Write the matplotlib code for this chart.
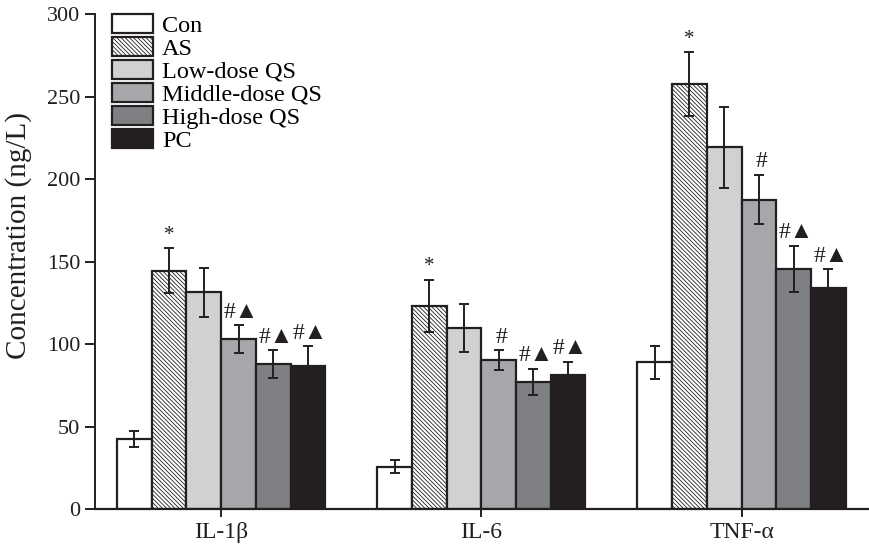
import numpy as np
import matplotlib.pyplot as plt
from matplotlib import rcParams

rcParams['font.family'] = ['Liberation Serif', 'DejaVu Sans']

cytokines = ["IL-1\u03b2", "IL-6", "TNF-\u03b1"]
groups = ["Con", "AS", "Low-dose QS", "Middle-dose QS", "High-dose QS", "PC"]

# mean and error (ng/L), rows = groups, columns = cytokines
means = [
    [42.5, 25.8, 89.2],
    [144.6, 123.2, 257.6],
    [131.5, 110.0, 219.4],
    [103.0, 90.5, 187.7],
    [87.9, 77.3, 145.7],
    [86.8, 81.4, 134.4],
]
errors = [
    [5.0, 4.0, 10.0],
    [13.5, 16.0, 19.5],
    [15.0, 14.5, 24.5],
    [8.5, 6.0, 15.0],
    [8.6, 8.0, 14.0],
    [12.0, 8.0, 11.0],
]
marks = [
    ["", "", ""],
    ["*", "*", "*"],
    ["", "", ""],
    ["#\u25b2", "#", "#"],
    ["#\u25b2", "#\u25b2", "#\u25b2"],
    ["#\u25b2", "#\u25b2", "#\u25b2"],
]

colors = ['white', 'white', '#d0d1d3', '#a6a7aa', '#7f8083', '#231f20']
hatches = [None, '\\' * 8, None, None, None, None]

rcParams['hatch.linewidth'] = 0.6

fig = plt.figure(figsize=(8.69, 5.44), dpi=100)
ax = fig.add_axes([0.1093, 0.0638, 0.8907, 0.9099])

x = np.arange(len(cytokines))
w = 0.1333
for i, g in enumerate(groups):
    pos = x + (i - 2.5) * w
    ax.bar(pos, means[i], width=w, color=colors[i], edgecolor='#231f20',
           linewidth=1.6, hatch=hatches[i], label=g, zorder=2)
    ax.errorbar(pos, means[i], yerr=errors[i], fmt='none', ecolor='#231f20',
                elinewidth=1.4, capsize=3.5, capthick=1.4, zorder=3)
    for j in range(len(cytokines)):
        m = marks[i][j]
        if m == "":
            continue
        top = means[i][j] + errors[i][j]
        if m == "*":
            ax.text(pos[j], top + 2, m, ha='center', va='bottom', fontsize=15,
                    color='#231f20')
        else:
            ax.text(pos[j] + 0.01, top + 1.5, m, ha='center', va='bottom',
                    fontsize=17, color='#231f20')

ax.set_xlim(-0.485, 2.49)
ax.set_ylim(0, 300)
ax.set_yticks([0, 50, 100, 150, 200, 250, 300])
ax.set_xticks(x)
ax.set_xticklabels(cytokines, fontsize=17)
ax.tick_params(axis='y', labelsize=16, length=7, width=1.4, colors='#231f20')
ax.tick_params(axis='x', length=6, width=1.4, colors='#231f20')
ax.set_ylabel("Concentration (ng/L)", fontsize=21, color='#231f20')
ax.yaxis.set_label_coords(-0.082, 0.554)

ax.spines['top'].set_visible(False)
ax.spines['right'].set_visible(False)
ax.spines['left'].set_linewidth(1.4)
ax.spines['bottom'].set_linewidth(1.6)
ax.spines['left'].set_color('#231f20')
ax.spines['bottom'].set_color('#231f20')

leg = ax.legend(loc='upper left', bbox_to_anchor=(0.022, 1.0), frameon=False,
                fontsize=17.5, handlelength=1.7, handleheight=0.82,
                handletextpad=0.35, labelspacing=0.0, borderpad=0,
                borderaxespad=0)

fig.savefig("out.png", dpi=100)
